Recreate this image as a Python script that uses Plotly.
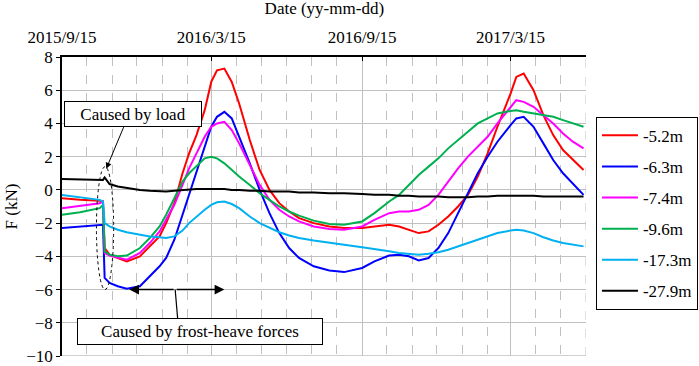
import plotly.graph_objects as go

dates = ["2015-09-15","2015-10-07","2015-10-31","2015-11-04","2015-11-06","2015-11-12","2015-11-22","2015-12-03",
         "2015-12-19","2015-12-31","2016-01-12","2016-01-20","2016-01-30","2016-02-09","2016-02-17","2016-02-26",
         "2016-03-07","2016-03-15","2016-03-22","2016-03-31","2016-04-09","2016-04-18","2016-05-01","2016-05-13",
         "2016-05-25","2016-06-06","2016-06-18","2016-06-30","2016-07-18","2016-08-06","2016-08-24","2016-09-15",
         "2016-09-30","2016-10-18","2016-10-30","2016-11-11","2016-11-23","2016-12-05","2016-12-17","2016-12-29",
         "2017-01-10","2017-01-22","2017-02-03","2017-02-15","2017-02-27","2017-03-15","2017-03-22","2017-03-31",
         "2017-04-12","2017-04-24","2017-05-06","2017-05-18","2017-05-30","2017-06-12"]

f_52 = [-0.5,-0.6,-0.65,-0.7,-3.5,-3.9,-4.1,-4.3,-4.0,-3.4,-2.8,-2.0,-0.8,1.0,2.2,3.3,4.8,6.5,7.2,7.3,6.5,5.2,3.0,1.2,
        0.0,-0.8,-1.3,-1.7,-2.0,-2.2,-2.3,-2.3,-2.2,-2.1,-2.2,-2.4,-2.6,-2.5,-2.1,-1.6,-1.0,-0.3,0.8,2.2,3.8,5.8,6.8,7.0,
        6.0,4.5,3.3,2.4,1.8,1.2]
f_63 = [-2.3,-2.2,-2.1,-2.1,-5.3,-5.6,-5.8,-5.95,-5.8,-5.2,-4.6,-4.1,-3.0,-1.5,-0.3,1.1,2.6,3.8,4.4,4.7,4.3,3.2,1.6,0.0,
        -1.4,-2.6,-3.5,-4.1,-4.6,-4.85,-4.95,-4.7,-4.3,-3.95,-3.9,-4.0,-4.25,-4.1,-3.5,-2.6,-1.4,-0.2,1.0,2.0,2.9,3.9,4.3,4.4,
        3.8,2.8,1.8,1.0,0.4,-0.3]
f_74 = [-1.1,-0.95,-0.8,-0.7,-3.8,-3.95,-4.05,-4.2,-3.8,-3.2,-2.5,-1.8,-0.9,0.3,1.3,2.2,3.2,3.8,4.0,4.1,3.6,2.8,1.5,0.3,
        -0.6,-1.2,-1.6,-1.9,-2.2,-2.35,-2.4,-2.2,-1.8,-1.4,-1.3,-1.3,-1.2,-0.9,-0.3,0.5,1.3,2.0,2.6,3.2,4.0,5.0,5.4,5.3,
        5.0,4.5,4.0,3.4,2.9,2.5]
f_96 = [-1.5,-1.35,-1.1,-0.9,-3.7,-3.9,-4.0,-3.95,-3.5,-2.9,-2.2,-1.5,-0.5,0.5,1.0,1.4,1.9,2.0,1.9,1.6,1.2,0.8,0.3,-0.2,
        -0.6,-1.0,-1.3,-1.55,-1.85,-2.05,-2.1,-1.9,-1.4,-0.7,-0.3,0.3,0.9,1.4,1.9,2.5,3.0,3.5,4.0,4.3,4.6,4.75,4.8,4.7,
        4.6,4.5,4.4,4.2,4.0,3.8]
f_173 = [-0.3,-0.45,-0.6,-0.7,-2.0,-2.2,-2.4,-2.55,-2.7,-2.8,-2.85,-2.9,-2.8,-2.45,-2.0,-1.6,-1.2,-0.9,-0.75,-0.7,-0.85,
         -1.1,-1.6,-2.0,-2.3,-2.55,-2.75,-2.9,-3.05,-3.2,-3.3,-3.45,-3.55,-3.7,-3.8,-3.85,-3.9,-3.85,-3.75,-3.6,-3.4,-3.2,
         -3.0,-2.8,-2.6,-2.45,-2.4,-2.45,-2.6,-2.85,-3.05,-3.2,-3.3,-3.4]
f_279 = [0.65,0.62,0.6,0.6,0.75,0.35,0.2,0.1,0.0,-0.05,-0.1,-0.1,-0.05,0.0,0.05,0.05,0.05,0.05,0.05,0.05,0.0,0.0,-0.05,
         -0.05,-0.1,-0.1,-0.1,-0.15,-0.15,-0.2,-0.2,-0.25,-0.3,-0.3,-0.35,-0.35,-0.4,-0.4,-0.4,-0.45,-0.45,-0.45,-0.4,-0.4,
         -0.35,-0.35,-0.35,-0.35,-0.35,-0.4,-0.4,-0.4,-0.4,-0.4]

series_names = ["-5.2m", "-6.3m", "-7.4m", "-9.6m", "-17.3m", "-27.9m"]
series_vals = [f_52, f_63, f_74, f_96, f_173, f_279]
colors = ["#FF0000", "#0000FF", "#FF00FF", "#00B050", "#00B0F0", "#000000"]

major_ticks = ["2015-09-15", "2016-03-15", "2016-09-15", "2017-03-15"]
major_labels = ["2015/9/15", "2016/3/15", "2016/9/15", "2017/3/15"]
minor_ticks = ["2015-10-15","2015-11-15","2015-12-15","2016-01-15","2016-02-15","2016-04-15","2016-05-15",
               "2016-06-15","2016-07-15","2016-08-15","2016-10-15","2016-11-15","2016-12-15","2017-01-15",
               "2017-02-15","2017-04-15","2017-05-15","2017-06-15"]
y_ticks = [8, 6, 4, 2, 0, -2, -4, -6, -8, -10]
x_end = "2017-06-15"
y_min = -10

FONT = "Liberation Serif, Times New Roman, serif"
fig = go.Figure()
for i, (n, v, c) in enumerate(zip(series_names, series_vals, colors)):
    fig.add_trace(go.Scatter(x=dates, y=v, mode="lines", name=n, legendgroup=str(i),
                             line=dict(color=c, width=2)))

fig.update_layout(
    width=699, height=366,
    margin=dict(l=62, r=113, t=57, b=10, autoexpand=False),
    plot_bgcolor="white", paper_bgcolor="white",
    font=dict(family=FONT, size=17, color="black"),
    showlegend=True,
    legend=dict(x=1.019, y=0.80, xanchor="left", yanchor="top",
                bordercolor="black", borderwidth=1, bgcolor="white",
                font=dict(family=FONT, size=17), tracegroupgap=6, itemwidth=36),
    title=dict(text="Date (yy-mm-dd)", x=0.464, xanchor="center", y=0.995, yanchor="top",
               font=dict(family=FONT, size=17)),
)
fig.update_xaxes(
    side="top", type="date", range=["2015-09-15", x_end], automargin=False,
    tickmode="array", tickvals=major_ticks, ticktext=major_labels,
    showline=True, linecolor="black", linewidth=1.5, mirror=False,
    ticks="inside", ticklen=4, tickcolor="black", ticklabelstandoff=5,
    showgrid=True, gridcolor="#C0C0C0", gridwidth=1,
    minor=dict(tickvals=minor_ticks, showgrid=True, gridcolor="#C0C0C0", griddash="dash", gridwidth=1, ticks=""),
    tickfont=dict(family=FONT, size=17), zeroline=False,
)
fig.update_yaxes(
    range=[y_min, 8], tickmode="array", tickvals=y_ticks, ticklabeloverflow="allow", automargin=False,
    showline=True, linecolor="black", linewidth=1.5,
    ticks="outside", ticklen=4, tickcolor="black",
    showgrid=True, gridcolor="#C0C0C0", gridwidth=1, zeroline=False,
    title=dict(text="F (kN)", font=dict(family=FONT, size=17), standoff=4),
    tickfont=dict(family=FONT, size=17),
)

# gridlines lying on the plot edges (bottom solid, right dashed)
fig.add_shape(type="line", xref="paper", yref="y", x0=0, x1=1, y0=y_min, y1=y_min, layer="below",
              line=dict(color="#C0C0C0", width=1.5))
fig.add_shape(type="line", xref="x", yref="paper", x0=x_end, x1=x_end, y0=0, y1=1, layer="below",
              line=dict(color="#C0C0C0", width=1, dash="dash"))

fig.add_shape(type="circle", xref="x", yref="y", x0="2015-10-27", x1="2015-11-17", y0=-6.0, y1=1.4,
              line=dict(color="black", width=1, dash="dot"))
fig.add_shape(type="line", xref="x", yref="y", x0="2016-02-03", y0=-7.72, x1="2016-01-31", y1=-6.0,
              line=dict(color="black", width=1.2))

fig.add_annotation(x="2015-12-06", y=-6, ax="2016-01-31", ay=-6, axref="x", ayref="y", xref="x", yref="y",
                   showarrow=True, arrowhead=2, arrowsize=1.3, arrowwidth=1.5, arrowcolor="black", text="")
fig.add_annotation(x="2016-03-31", y=-6, ax="2016-01-31", ay=-6, axref="x", ayref="y", xref="x", yref="y",
                   showarrow=True, arrowhead=2, arrowsize=1.3, arrowwidth=1.5, arrowcolor="black", text="")
fig.add_annotation(x="2015-11-08", y=1.28, ax=18, ay=-43, xref="x", yref="y",
                   showarrow=True, arrowhead=2, arrowsize=1.2, arrowwidth=1, arrowcolor="black", text="")

fig.add_annotation(text="Caused by load", xref="paper", yref="paper", x=0.1355, y=0.81,
                   xanchor="center", yanchor="middle", showarrow=False,
                   width=134, height=22, borderpad=1, bordercolor="black", borderwidth=1, bgcolor="white",
                   font=dict(family=FONT, size=17))
fig.add_annotation(text="Caused by frost-heave forces", xref="paper", yref="paper", x=0.2634, y=0.0817,
                   xanchor="center", yanchor="middle", showarrow=False,
                   width=242, height=23, borderpad=1, bordercolor="black", borderwidth=1, bgcolor="white",
                   font=dict(family=FONT, size=17))

fig.write_html("out.html", config={"displayModeBar": False})

# remove default page margin so the figure sits at the window's top-left corner
with open("out.html", "r", encoding="utf-8") as fh:
    html = fh.read()
html = html.replace("<head>", "<head><style>html,body{margin:0;padding:0;overflow:hidden;}</style>", 1)
with open("out.html", "w", encoding="utf-8") as fh:
    fh.write(html)
